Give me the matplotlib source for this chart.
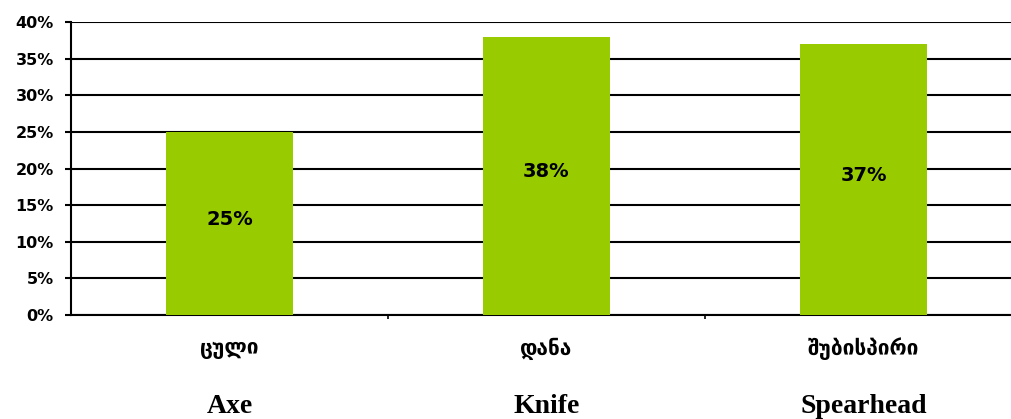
import matplotlib.pyplot as plt
from matplotlib.ticker import MultipleLocator, FuncFormatter

# data
categories_ka = ['ცული', 'დანა', 'შუბისპირი']
categories_en = ['Axe', 'Knife', 'Spearhead']
values = [25, 38, 37]
value_labels = ['25%', '38%', '37%']

fig = plt.figure(figsize=(10.11, 4.19), dpi=100)
# plot area runs a little past the right edge of the picture
ax = fig.add_axes([71 / 1011, 1 - 315 / 419, 951 / 1011, 293 / 419])

x = list(range(len(values)))
bars = ax.bar(x, values, width=0.4, color='#99cc00', zorder=3)

ax.set_xlim(-0.5, 2.5)
ax.set_ylim(0, 40)
ax.yaxis.set_major_locator(MultipleLocator(5))
ax.yaxis.set_major_formatter(FuncFormatter(lambda v, p: f'{v:.0f}%'))
ax.grid(axis='y', color='black', lw=1.5, zorder=0)

for s in ['top', 'right']:
    ax.spines[s].set_visible(False)
ax.spines['left'].set_linewidth(1.5)
ax.spines['bottom'].set_linewidth(1.5)

ax.tick_params(axis='y', length=4.5, width=1.5, labelsize=11.5, pad=8)
for t in ax.get_yticklabels():
    t.set_fontweight('bold')

# category boundary ticks
ax.set_xticks([0.5, 1.5])
ax.set_xticklabels([])
ax.tick_params(axis='x', length=3, width=1.2)

for i, b in enumerate(bars):
    ax.annotate(value_labels[i], (b.get_x() + b.get_width() / 2, values[i] / 2),
                xytext=(0, 4), textcoords='offset pixels',
                ha='center', va='center', fontsize=14, fontweight='bold', zorder=4)
    ax.annotate(categories_ka[i], (i, 0), xycoords='data', xytext=(0, -34),
                textcoords='offset pixels', ha='center', va='center',
                fontsize=15, fontweight='bold', family='DejaVu Sans')
    ax.annotate(categories_en[i], (i, 0), xycoords='data', xytext=(0, -98),
                textcoords='offset pixels', ha='center', va='baseline',
                fontsize=20, fontweight='bold', family='Liberation Serif')

fig.savefig('out.png', dpi=100)
